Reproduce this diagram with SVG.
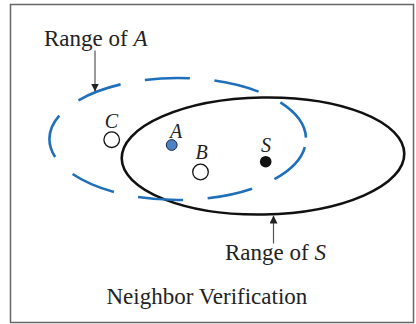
<svg xmlns="http://www.w3.org/2000/svg" width="416" height="324" viewBox="0 0 416 324">
  <style>
    .txt { font-family: "Liberation Serif", "Times New Roman", serif; font-size: 23px; fill: #222; }
    .lbl { font-family: "Liberation Serif", "Times New Roman", serif; font-size: 20px; font-style: italic; fill: #222; text-anchor: middle; }
    .open { fill: #fff; stroke: #111; stroke-width: 1.3; }
    .conn { stroke: #555; stroke-width: 1.2; fill: none; }
  </style>
  <defs>
    <marker id="arrow" viewBox="0 0 10 10" refX="10" refY="5" markerWidth="8" markerHeight="8" markerUnits="userSpaceOnUse" orient="auto">
      <path d="M0,0 L10,5 L0,10 Z" fill="#222"/>
    </marker>
  </defs>
  <rect x="10.5" y="4.5" width="403" height="318" fill="#fff" stroke="#666" stroke-width="1.5"/>

  <g id="range-S">
    <ellipse cx="263" cy="156" rx="141.3" ry="58.5" transform="rotate(-1 263 156)" fill="none" stroke="#111" stroke-width="2.6"/>
  </g>
  <g id="range-A">
    <path d="M306,139 A128.3,61 0 0 1 177.7,200 A128.3,61 0 0 1 49.4,139 A128.3,61 0 0 1 177.7,78 A128.3,61 0 0 1 306,139 Z" fill="none" stroke="#1f6fbb" stroke-width="2.6" stroke-dasharray="45.3 24.5" stroke-dashoffset="61.6"/>
  </g>

  <g id="node-C">
    <circle class="open" cx="111.7" cy="139.7" r="7.8"/>
    <text class="lbl" x="111.5" y="127.5">C</text>
  </g>
  <g id="node-A">
    <circle cx="171.7" cy="145" r="5.4" fill="#4d82c6" stroke="#1a2a44" stroke-width="1"/>
    <text class="lbl" x="176" y="137.5">A</text>
  </g>
  <g id="node-B">
    <circle class="open" cx="200.5" cy="172" r="7.8"/>
    <text class="lbl" x="201.5" y="158.5">B</text>
  </g>
  <g id="node-S">
    <circle cx="265.7" cy="161.7" r="5.8" fill="#111"/>
    <text class="lbl" x="266" y="152">S</text>
  </g>

  <g id="connectors">
    <line class="conn" x1="95" y1="50.5" x2="95" y2="91.5" marker-end="url(#arrow)"/>
    <line class="conn" x1="273.5" y1="243.5" x2="273.5" y2="215.5" marker-end="url(#arrow)"/>
  </g>

  <g id="labels">
    <text class="txt" x="44" y="46">Range of <tspan font-style="italic">A</tspan></text>
    <text class="txt" x="225" y="260">Range of <tspan font-style="italic">S</tspan></text>
    <text class="txt" x="106.5" y="304">Neighbor Verification</text>
  </g>
</svg>
